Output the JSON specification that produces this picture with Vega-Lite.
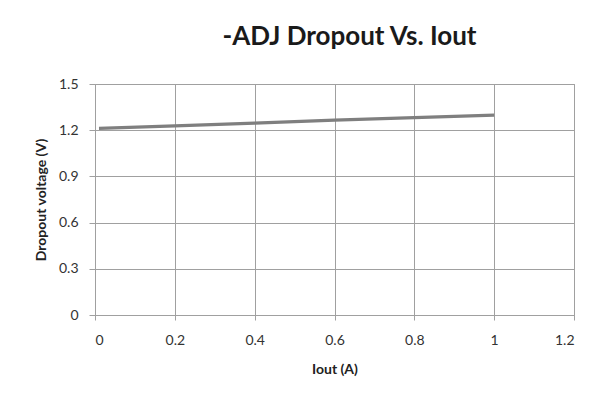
{
  "$schema": "https://vega.github.io/schema/vega-lite/v6.json",
  "autosize": "none",
  "width": 479,
  "height": 231,
  "padding": {"left": 95, "top": 84, "right": 26, "bottom": 92},
  "background": "white",
  "title": {
    "text": "-ADJ Dropout Vs. Iout",
    "font": "Lato",
    "fontSize": 26,
    "fontWeight": "bold",
    "color": "#1a1a1a",
    "anchor": "middle",
    "dx": 15,
    "offset": 27
  },
  "data": {
    "values": [
      {"iout": 0.01, "v": 1.212},
      {"iout": 0.2, "v": 1.228},
      {"iout": 0.4, "v": 1.246},
      {"iout": 0.6, "v": 1.266},
      {"iout": 0.8, "v": 1.282},
      {"iout": 1.0, "v": 1.298}
    ]
  },
  "mark": {"type": "line", "color": "#7f7f7f", "strokeWidth": 3.2, "clip": true},
  "encoding": {
    "x": {
      "field": "iout",
      "type": "quantitative",
      "title": "Iout (A)",
      "scale": {"domain": [0, 1.2], "nice": false, "zero": false},
      "axis": {
        "values": [0, 0.2, 0.4, 0.6, 0.8, 1, 1.2],
        "labelExpr": "datum.value == 0 ? '0' : format(datum.value, '.1~f')",
        "grid": true,
        "gridColor": "#a0a0a0",
        "gridWidth": 1,
        "domainColor": "#a0a0a0",
        "tickColor": "#a0a0a0",
        "tickSize": 5,
        "labelPadding": 13,
        "labelFont": "Lato",
        "labelFontSize": 14,
        "labelColor": "#333333",
        "titleFont": "Lato",
        "titleFontSize": 14,
        "titleFontWeight": "bold",
        "titleColor": "#222222",
        "titlePadding": 15
      }
    },
    "y": {
      "field": "v",
      "type": "quantitative",
      "title": "Dropout voltage  (V)",
      "scale": {"domain": [0, 1.5], "nice": false},
      "axis": {
        "values": [0, 0.3, 0.6, 0.9, 1.2, 1.5],
        "labelExpr": "datum.value == 0 ? '0' : format(datum.value, '.1f')",
        "grid": true,
        "gridColor": "#a0a0a0",
        "gridWidth": 1,
        "domainColor": "#a0a0a0",
        "tickColor": "#a0a0a0",
        "tickSize": 6,
        "labelPadding": 11,
        "labelFont": "Lato",
        "labelFontSize": 14,
        "labelColor": "#333333",
        "titleFont": "Lato",
        "titleFontSize": 14,
        "titleFontWeight": "bold",
        "titleColor": "#222222",
        "titlePadding": 10
      }
    }
  },
  "config": {
    "view": {"stroke": "#a0a0a0", "strokeWidth": 1}
  }
}
